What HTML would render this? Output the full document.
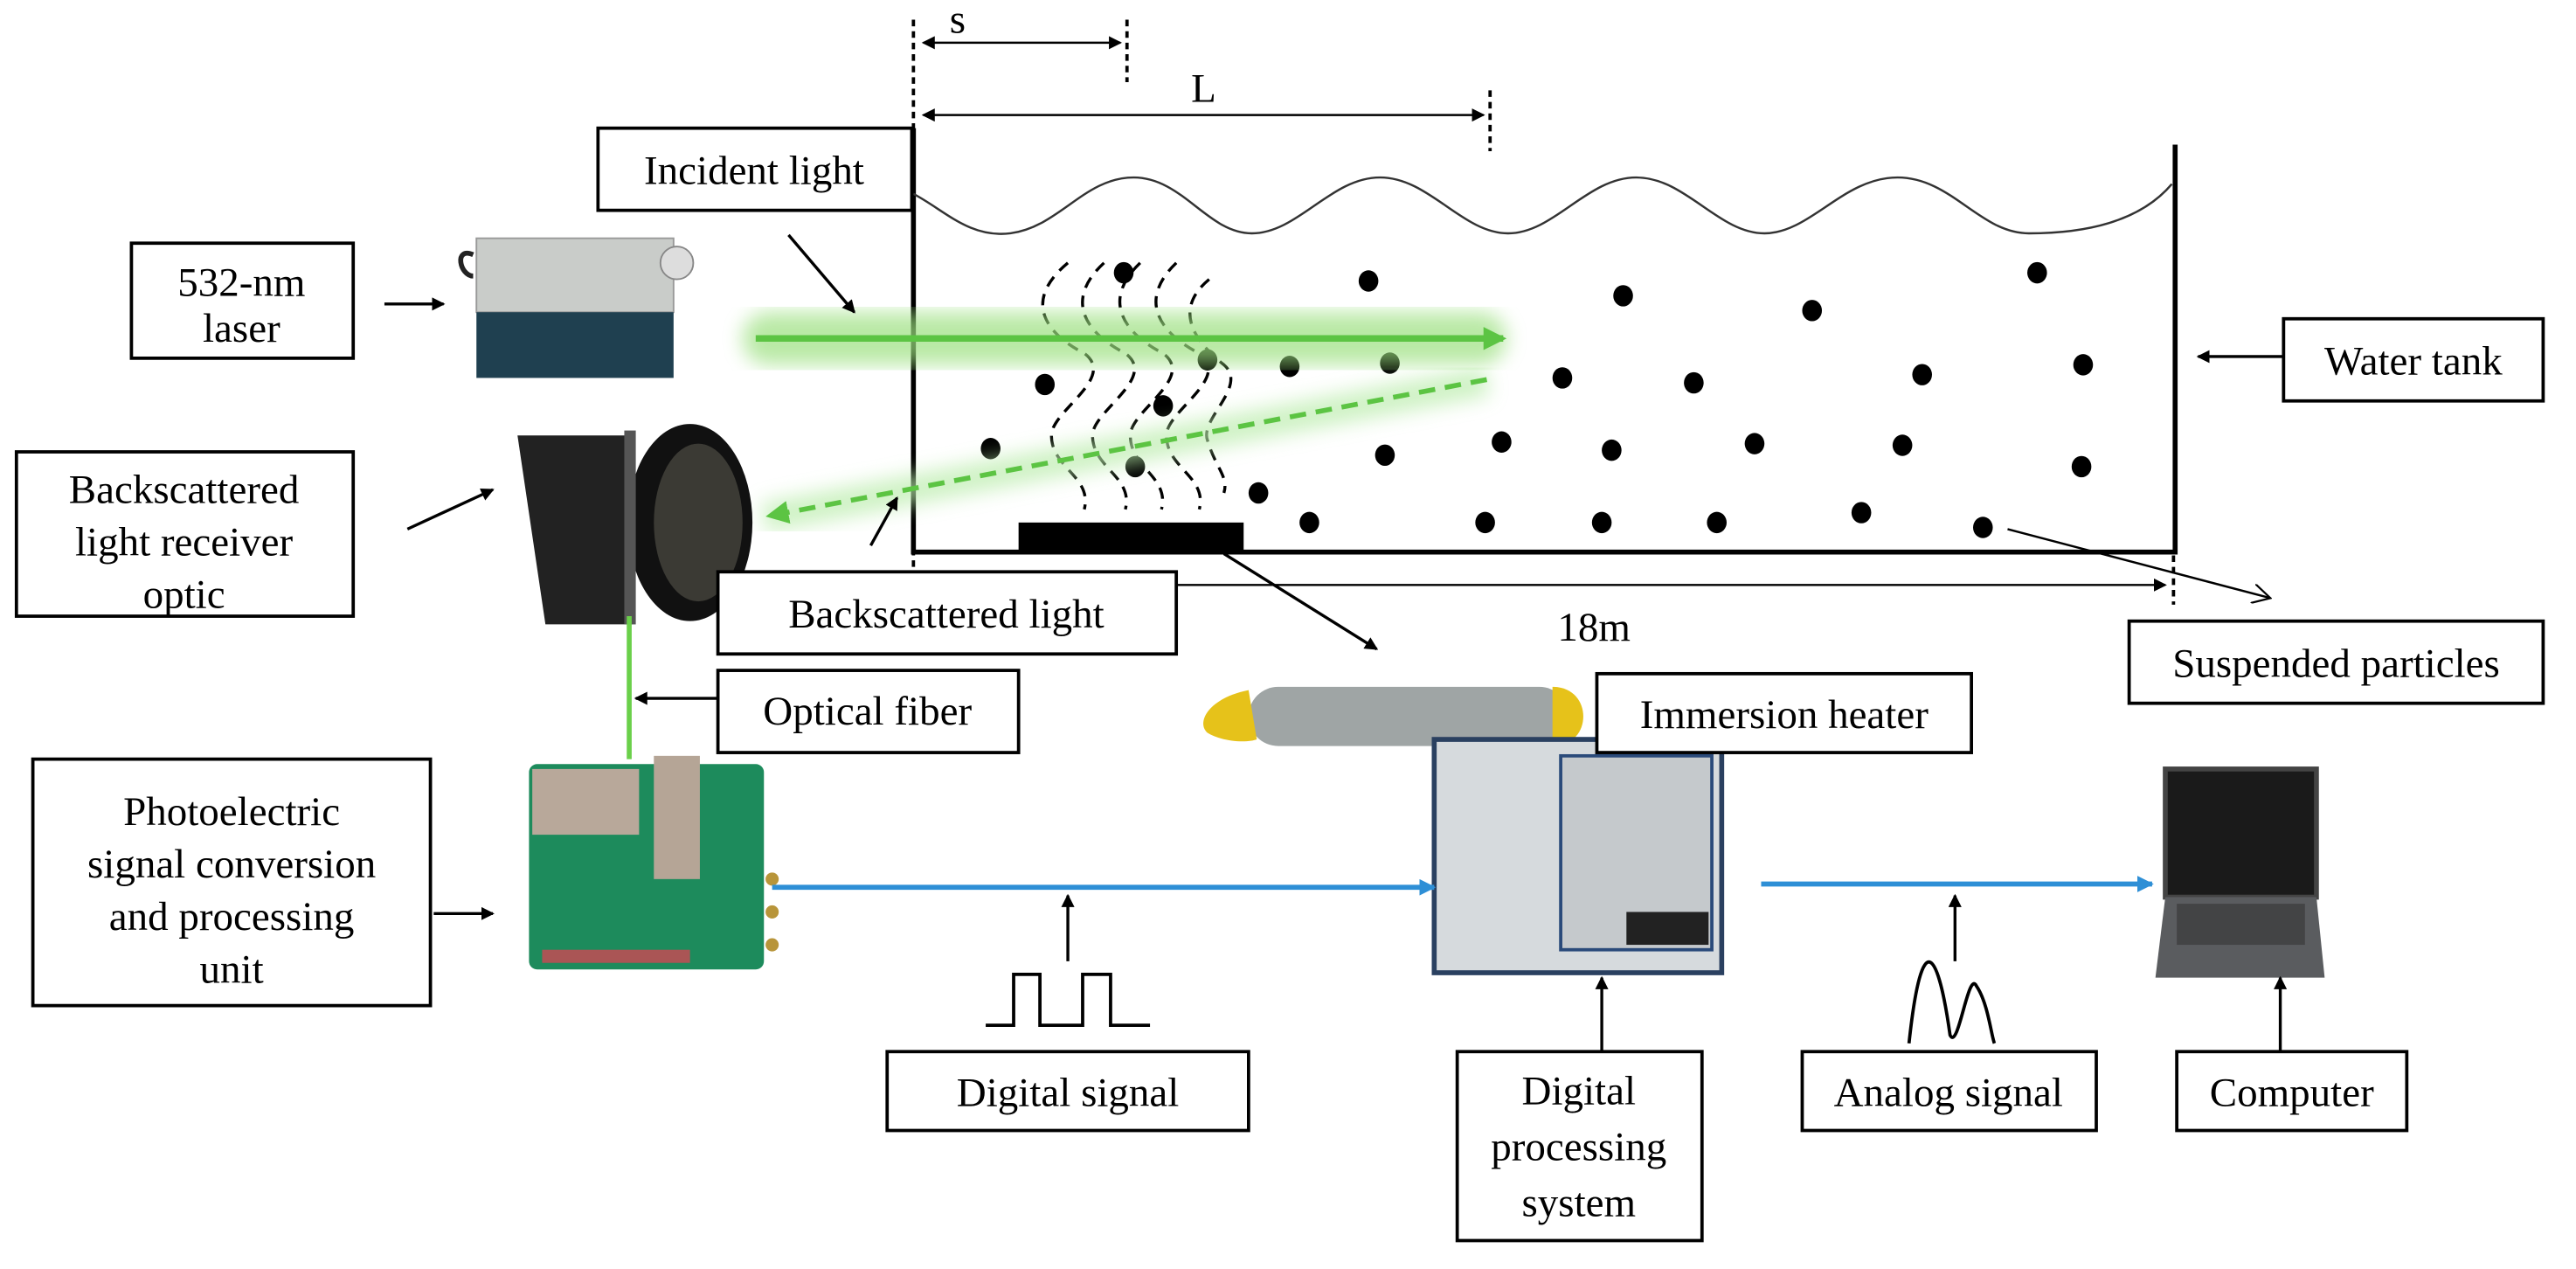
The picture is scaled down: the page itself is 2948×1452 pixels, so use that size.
<!DOCTYPE html>
<html><head><meta charset="utf-8"><style>
html,body{margin:0;padding:0;background:#fff;}
svg{display:block}
text{font-family:"Liberation Serif",serif;font-size:25px;fill:#000}
</style></head><body>
<svg width="2948" height="1452" viewBox="0 0 1568 772.3" preserveAspectRatio="none" xmlns="http://www.w3.org/2000/svg">
<defs>
<marker id="a" markerWidth="8" markerHeight="8" refX="7" refY="4" orient="auto" markerUnits="userSpaceOnUse"><path d="M0,0 L8,4 L0,8 Z" fill="#000"/></marker>
<marker id="as" markerWidth="8" markerHeight="8" refX="1" refY="4" orient="auto" markerUnits="userSpaceOnUse"><path d="M8,0 L0,4 L8,8 Z" fill="#000"/></marker>
<marker id="ab" markerWidth="10" markerHeight="10" refX="9" refY="5" orient="auto" markerUnits="userSpaceOnUse"><path d="M0,0 L10,5 L0,10 Z" fill="#2e8fd6"/></marker>
<marker id="ag" markerWidth="14" markerHeight="14" refX="12" refY="7" orient="auto" markerUnits="userSpaceOnUse"><path d="M0,0 L14,7 L0,14 Z" fill="#5cc443"/></marker>
<marker id="ao" markerWidth="12" markerHeight="12" refX="11" refY="6" orient="auto" markerUnits="userSpaceOnUse"><path d="M0,0 L11,6 L0,12" fill="none" stroke="#000" stroke-width="1.2"/></marker>
<filter id="blur"><feGaussianBlur stdDeviation="6"/></filter>
</defs>

<g stroke="#000" stroke-width="2" stroke-dasharray="4,3">
<line x1="556" y1="12" x2="556" y2="365"/>
<line x1="686" y1="12" x2="686" y2="50"/>
<line x1="907" y1="55" x2="907" y2="92"/>
<line x1="1323" y1="338" x2="1323" y2="368"/>
</g>
<g stroke="#000" stroke-width="1.3">
<line x1="562" y1="26" x2="682" y2="26" marker-end="url(#a)" marker-start="url(#as)"/>
<line x1="562" y1="70" x2="903" y2="70" marker-end="url(#a)" marker-start="url(#as)"/>
<line x1="562" y1="356" x2="1318" y2="356" marker-end="url(#a)" marker-start="url(#as)"/>
</g>
<text x="578" y="20">s</text>
<text x="725" y="62">L</text>
<text x="948" y="390">18m</text>

<path d="M556,78 V336 H1324 V88" fill="none" stroke="#000" stroke-width="3"/>
<path d="M556,118 C575,128 590,145 615,142 C645,138 660,108 690,108 C720,108 735,142 762,142 C790,142 810,108 840,108 C870,108 890,142 918,142 C946,142 966,108 996,108 C1026,108 1046,142 1074,142 C1102,142 1122,108 1155,108 C1188,108 1205,142 1235,142 C1262,142 1300,138 1322,112" fill="none" stroke="#333" stroke-width="1.3"/>
<rect x="620" y="318" width="137" height="18" fill="#000"/>

<g fill="#000">
<ellipse cx="684" cy="166" rx="6" ry="6.5"/><ellipse cx="833" cy="171" rx="6" ry="6.5"/><ellipse cx="988" cy="180" rx="6" ry="6.5"/><ellipse cx="1103" cy="189" rx="6" ry="6.5"/><ellipse cx="1240" cy="166" rx="6" ry="6.5"/>
<ellipse cx="735" cy="219" rx="6" ry="6.5"/><ellipse cx="785" cy="223" rx="6" ry="6.5"/><ellipse cx="846" cy="221" rx="6" ry="6.5"/><ellipse cx="636" cy="234" rx="6" ry="6.5"/><ellipse cx="708" cy="247" rx="6" ry="6.5"/>
<ellipse cx="951" cy="230" rx="6" ry="6.5"/><ellipse cx="1031" cy="233" rx="6" ry="6.5"/><ellipse cx="1170" cy="228" rx="6" ry="6.5"/><ellipse cx="1268" cy="222" rx="6" ry="6.5"/>
<ellipse cx="603" cy="273" rx="6" ry="6.5"/><ellipse cx="691" cy="284" rx="6" ry="6.5"/><ellipse cx="766" cy="300" rx="6" ry="6.5"/><ellipse cx="843" cy="277" rx="6" ry="6.5"/><ellipse cx="914" cy="269" rx="6" ry="6.5"/><ellipse cx="981" cy="274" rx="6" ry="6.5"/><ellipse cx="1068" cy="270" rx="6" ry="6.5"/><ellipse cx="1158" cy="271" rx="6" ry="6.5"/><ellipse cx="1267" cy="284" rx="6" ry="6.5"/>
<ellipse cx="797" cy="318" rx="6" ry="6.5"/><ellipse cx="904" cy="318" rx="6" ry="6.5"/><ellipse cx="975" cy="318" rx="6" ry="6.5"/><ellipse cx="1045" cy="318" rx="6" ry="6.5"/><ellipse cx="1133" cy="312" rx="6" ry="6.5"/><ellipse cx="1207" cy="321" rx="6" ry="6.5"/>
</g>
<g fill="none" stroke="#000" stroke-width="1.8" stroke-dasharray="7,5">
<path d="M650,160 C620,185 640,205 660,215 C680,230 640,250 640,265 C640,285 665,290 660,310"/>
<path d="M672,160 C645,185 665,205 685,215 C705,230 665,250 665,265 C665,285 690,290 685,310"/>
<path d="M694,160 C668,185 688,205 708,215 C728,230 688,250 688,265 C688,285 712,290 707,310"/>
<path d="M716,160 C690,185 710,205 730,215 C750,230 710,250 710,265 C710,285 735,290 730,310"/>
<path d="M736,170 C712,190 730,210 745,222 C760,235 730,255 735,268 C740,285 748,290 745,300"/>
</g>

<rect x="452" y="190" width="465" height="32" rx="16" fill="#9be07f" opacity="0.7" filter="url(#blur)"/>
<line x1="460" y1="206" x2="915" y2="206" stroke="#5cc443" stroke-width="4" marker-end="url(#ag)"/>
<line x1="905" y1="232" x2="465" y2="315" stroke="#b9ecaa" stroke-width="18" opacity="0.7" filter="url(#blur)"/>
<line x1="905" y1="231" x2="468" y2="314" stroke="#5cc443" stroke-width="3" stroke-dasharray="10,6" marker-end="url(#ag)"/>

<rect x="290" y="145" width="120" height="45" fill="#c9ccc9" stroke="#999"/>
<rect x="290" y="190" width="120" height="40" fill="#1f4050"/>
<circle cx="412" cy="160" r="10" fill="#ddd" stroke="#888"/>
<path d="M288,155 C276,150 280,168 288,168" stroke="#222" stroke-width="3" fill="none"/>
<path d="M315,265 L385,265 L385,380 L332,380 Z" fill="#222"/>
<ellipse cx="420" cy="318" rx="38" ry="60" fill="#111"/>
<ellipse cx="425" cy="318" rx="27" ry="48" fill="#3b3a34"/>
<rect x="380" y="262" width="7" height="118" fill="#555"/>
<line x1="383" y1="375" x2="383" y2="462" stroke="#6ad04a" stroke-width="3"/>
<rect x="322" y="465" width="143" height="125" rx="5" fill="#1d8b5c"/>
<rect x="324" y="468" width="65" height="40" fill="#b8a89a"/>
<rect x="398" y="460" width="28" height="75" fill="#b5a596"/>
<g fill="#b8953a"><circle cx="470" cy="535" r="4"/><circle cx="470" cy="555" r="4"/><circle cx="470" cy="575" r="4"/></g>
<rect x="330" y="578" width="90" height="8" fill="#a55"/>
<rect x="760" y="418" width="195" height="36" rx="18" fill="#9fa5a5"/>
<path d="M760,420 C735,425 728,440 735,446 C745,452 760,452 765,450 Z" fill="#e6c21a"/>
<path d="M945,418 C970,418 970,454 945,454 Z" fill="#e6c21a"/>
<rect x="873" y="450" width="175" height="142" fill="#d6dadd" stroke="#2a4060" stroke-width="3"/>
<rect x="950" y="460" width="92" height="118" fill="#c5c9cc" stroke="#2a4a7a" stroke-width="2"/>
<rect x="990" y="555" width="50" height="20" fill="#222"/>
<rect x="1318" y="468" width="92" height="78" fill="#1a1a1a" stroke="#444" stroke-width="3"/>
<path d="M1318,546 L1410,546 L1415,595 L1312,595 Z" fill="#5a5c5f"/>
<rect x="1325" y="550" width="78" height="25" fill="#333" opacity="0.6"/>

<line x1="470" y1="540" x2="873" y2="540" stroke="#2e8fd6" stroke-width="3" marker-end="url(#ab)"/>
<line x1="1072" y1="538" x2="1310" y2="538" stroke="#2e8fd6" stroke-width="3" marker-end="url(#ab)"/>

<path d="M600,624 H617 V593 H633 V624 H659 V593 H676 V624 H700" fill="none" stroke="#000" stroke-width="2"/>
<path d="M1162,635 C1170,560 1180,580 1187,630 C1192,640 1198,590 1203,600 C1210,610 1212,630 1214,635" fill="none" stroke="#000" stroke-width="2"/>

<g stroke="#000" stroke-width="1.8" fill="none">
<line x1="480" y1="143" x2="520" y2="190" marker-end="url(#a)"/>
<line x1="234" y1="185" x2="270" y2="185" marker-end="url(#a)"/>
<line x1="1390" y1="217" x2="1338" y2="217" marker-end="url(#a)"/>
<line x1="248" y1="322" x2="300" y2="298" marker-end="url(#a)"/>
<line x1="530" y1="332" x2="546" y2="303" marker-end="url(#a)"/>
<line x1="745" y1="337" x2="838" y2="395" marker-end="url(#a)"/>
<line x1="1222" y1="322" x2="1382" y2="364" stroke-width="1.3" marker-end="url(#ao)"/>
<line x1="437" y1="425" x2="387" y2="425" marker-end="url(#a)"/>
<line x1="264" y1="556" x2="300" y2="556" marker-end="url(#a)"/>
<line x1="650" y1="585" x2="650" y2="545" marker-end="url(#a)"/>
<line x1="975" y1="640" x2="975" y2="595" marker-end="url(#a)"/>
<line x1="1190" y1="585" x2="1190" y2="545" marker-end="url(#a)"/>
<line x1="1388" y1="640" x2="1388" y2="595" marker-end="url(#a)"/>
</g>

<g fill="#fff" stroke="#000" stroke-width="2">
<rect x="364" y="78" width="191" height="50"/>
<rect x="80" y="148" width="135" height="70"/>
<rect x="1390" y="194" width="158" height="50"/>
<rect x="10" y="275" width="205" height="100"/>
<rect x="437" y="348" width="279" height="50"/>
<rect x="1296" y="378" width="252" height="50"/>
<rect x="437" y="408" width="183" height="50"/>
<rect x="972" y="410" width="228" height="48"/>
<rect x="20" y="462" width="242" height="150"/>
<rect x="540" y="640" width="220" height="48"/>
<rect x="887" y="640" width="149" height="115"/>
<rect x="1097" y="640" width="179" height="48"/>
<rect x="1325" y="640" width="140" height="48"/>
</g>
<g text-anchor="middle">
<text x="459" y="112">Incident light</text>
<text x="147" y="180">532-nm</text><text x="147" y="208">laser</text>
<text x="1469" y="228">Water tank</text>
<text x="112" y="306">Backscattered</text><text x="112" y="338">light receiver</text><text x="112" y="370">optic</text>
<text x="576" y="382">Backscattered light</text>
<text x="1422" y="412">Suspended particles</text>
<text x="528" y="441">Optical fiber</text>
<text x="1086" y="443">Immersion heater</text>
<text x="141" y="502">Photoelectric</text><text x="141" y="534">signal conversion</text><text x="141" y="566">and processing</text><text x="141" y="598">unit</text>
<text x="650" y="673">Digital signal</text>
<text x="961" y="672">Digital</text><text x="961" y="706">processing</text><text x="961" y="740">system</text>
<text x="1186" y="673">Analog signal</text>
<text x="1395" y="673">Computer</text>
</g>
</svg>
</body></html>
